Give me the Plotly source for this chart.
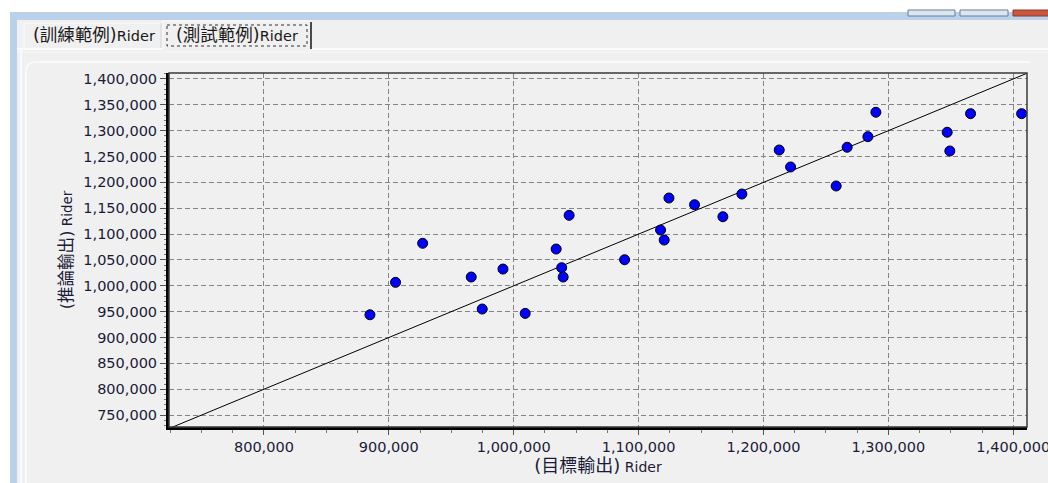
import plotly.graph_objects as go

# Test-set scatter: target output (x) vs. inferred output (y) for "Rider"
target_out = [884900, 905400, 927100, 966000, 974800, 991400, 1009200, 1034000,
              1038400, 1039600, 1044400, 1088800, 1117600, 1120500, 1124300,
              1144800, 1167500, 1182700, 1212600, 1221700, 1258200, 1267000,
              1283600, 1290000, 1347100, 1349200, 1365800, 1406700]
inferred_out = [944000, 1006700, 1082200, 1017000, 955100, 1032400, 946700, 1071100,
                1035000, 1017000, 1136300, 1050400, 1107900, 1088500, 1169800,
                1156800, 1133600, 1177500, 1262600, 1229800, 1193000, 1267900,
                1288400, 1335600, 1296900, 1260700, 1332900, 1332900]

# Ideal y = x reference line across the axis span
ideal_line = [724000, 1411000]

x_tick_vals = [800000, 900000, 1000000, 1100000, 1200000, 1300000, 1400000]
x_tick_text = ["800,000", "900,000", "1,000,000", "1,100,000", "1,200,000",
               "1,300,000", "1,400,000"]
y_tick_vals = [750000, 800000, 850000, 900000, 950000, 1000000, 1050000, 1100000,
               1150000, 1200000, 1250000, 1300000, 1350000, 1400000]
y_tick_text = ["750,000", "800,000", "850,000", "900,000", "950,000", "1,000,000",
               "1,050,000", "1,100,000", "1,150,000", "1,200,000", "1,250,000",
               "1,300,000", "1,350,000", "1,400,000"]

tab_labels = ['<span style="font-size:17.5px">(訓練範例)</span>Rider',
              '<span style="font-size:17.5px">(測試範例)</span>Rider']
x_title = '<span style="font-size:18px">(目標輸出)</span> Rider'
y_title = '<span style="font-size:16.5px">(推論輸出)</span> Rider'

W, H = 1048, 483
L, R, T, B = 169, 21, 73, 56
PW, PH = W - L - R, H - T - B
X_RANGE = [724000, 1411000]
Y_RANGE = [727000, 1411500]


def px(x):
    return (x - L) / PW


def py(y):
    return (H - B - y) / PH


fig = go.Figure()

fig.add_trace(go.Scatter(
    x=ideal_line, y=ideal_line, mode="lines",
    line=dict(color="black", width=1), hoverinfo="skip",
))
fig.add_trace(go.Scatter(
    x=target_out, y=inferred_out, mode="markers",
    marker=dict(symbol="circle", size=10, color="#0000ff",
                line=dict(color="black", width=1)),
    cliponaxis=False,
))

grid = dict(showgrid=True, gridcolor="#858585", gridwidth=1, griddash="5px,3px",
            zeroline=False, showline=True, linecolor="black", linewidth=3,
            ticks="outside", tickcolor="#555555", tickwidth=1, automargin=False)

x_minor = [v for v in range(725000, 1411000, 25000)]
y_minor = [v for v in range(730000, 1411000, 10000)]

fig.update_xaxes(
    range=X_RANGE, tickmode="array", tickvals=x_tick_vals, ticktext=x_tick_text,
    ticklen=5, ticklabeloverflow="allow",
    minor=dict(tickmode="array", tickvals=x_minor, ticks="outside",
               ticklen=3, tickcolor="#777777", showgrid=False),
    title=dict(text=x_title, standoff=4, font=dict(size=14)),
    **grid,
)
fig.update_yaxes(
    range=Y_RANGE, tickmode="array", tickvals=y_tick_vals, ticktext=y_tick_text,
    ticklen=6, ticklabeloverflow="allow",
    minor=dict(tickmode="array", tickvals=y_minor, ticks="outside",
               ticklen=2, tickcolor="#777777", showgrid=False),
    title=dict(text=y_title, standoff=8, font=dict(size=13.5)),
    **grid,
)

shapes = []


def rect(x0, y0, x1, y1, fill, line_color=None, lw=0, dash="solid"):
    shapes.append(dict(
        type="rect", xref="paper", yref="paper",
        x0=px(x0), x1=px(x1), y0=py(y0), y1=py(y1),
        fillcolor=fill, line=dict(color=line_color or fill, width=lw, dash=dash),
        layer="above",
    ))


def hline(x0, x1, y, color, lw=1, dash="solid"):
    shapes.append(dict(type="line", xref="paper", yref="paper",
                       x0=px(x0), x1=px(x1), y0=py(y), y1=py(y),
                       line=dict(color=color, width=lw, dash=dash), layer="above"))


def vline(x, y0, y1, color, lw=1):
    shapes.append(dict(type="line", xref="paper", yref="paper",
                       x0=px(x), x1=px(x), y0=py(y0), y1=py(y1),
                       line=dict(color=color, width=lw), layer="above"))


# Window frame: white strip, title bar edge and left border
rect(0, 0, W, 12, "#ffffff")
rect(0, 0, 10, H, "#ffffff")
rect(10, 12, W, 20, "#b9d1ea")
rect(10, 12, 17, H, "#b9d1ea")
# caption buttons (bottom edges)
rect(908, 10, 955, 16, "#dae6f2", "#6d7e93", 1)
rect(960, 10, 1008, 16, "#dae6f2", "#6d7e93", 1)
rect(1013, 10, 1052, 16, "#c9573f", "#8a3a2a", 1)

# Tab strip
hline(24, 162, 23, "#fbfbfb", 1)
vline(24, 23, 48, "#fbfbfb", 1)
vline(161, 23, 48, "#d5d5d5", 1)
hline(163, 311, 21, "#fbfbfb", 1)
vline(163, 21, 49, "#fbfbfb", 1)
vline(311, 22, 49, "#4a4a4a", 2)
rect(167, 25, 307, 46, "rgba(0,0,0,0)", "#333333", 1, "dot")
hline(17, 163, 49, "#ffffff", 1.5)
hline(312, W, 49, "#ffffff", 1.5)
hline(17, W, 52, "#f8f8f8", 1)
vline(21, 49, H, "#fbfbfb", 2)

# Inner panel with rounded top-left corner
shapes.append(dict(
    type="path", xref="paper", yref="paper",
    path=(f"M {px(26)},{py(H)} L {px(26)},{py(72)} "
          f"Q {px(26)},{py(62)} {px(36)},{py(62)} L {px(1030)},{py(62)}"),
    line=dict(color="#fbfbfb", width=1.5), layer="above",
))

# Plot frame (top/right edges)
shapes.append(dict(type="rect", xref="paper", yref="paper", x0=0, x1=1, y0=0, y1=1,
                   line=dict(color="#3a3a3a", width=1.5), layer="above"))

annotations = [
    dict(text=tab_labels[0], x=px(31), y=py(35), xref="paper", yref="paper",
         xanchor="left", yanchor="middle", showarrow=False,
         font=dict(family="DejaVu Sans, Noto Sans CJK TC", size=14.5, color="#1a1a1a")),
    dict(text=tab_labels[1], x=px(174), y=py(35), xref="paper", yref="paper",
         xanchor="left", yanchor="middle", showarrow=False,
         font=dict(family="DejaVu Sans, Noto Sans CJK TC", size=14.5, color="#1a1a1a")),
]

fig.update_layout(
    width=W, height=H,
    margin=dict(l=L, r=R, t=T, b=B, pad=0, autoexpand=False),
    paper_bgcolor="#f0f0f0", plot_bgcolor="#f0f0f0",
    showlegend=False,
    font=dict(family="DejaVu Sans, Noto Sans CJK TC", size=14.5, color="#1b1b38"),
    shapes=shapes, annotations=annotations,
)

fig.write_html("out.html")
